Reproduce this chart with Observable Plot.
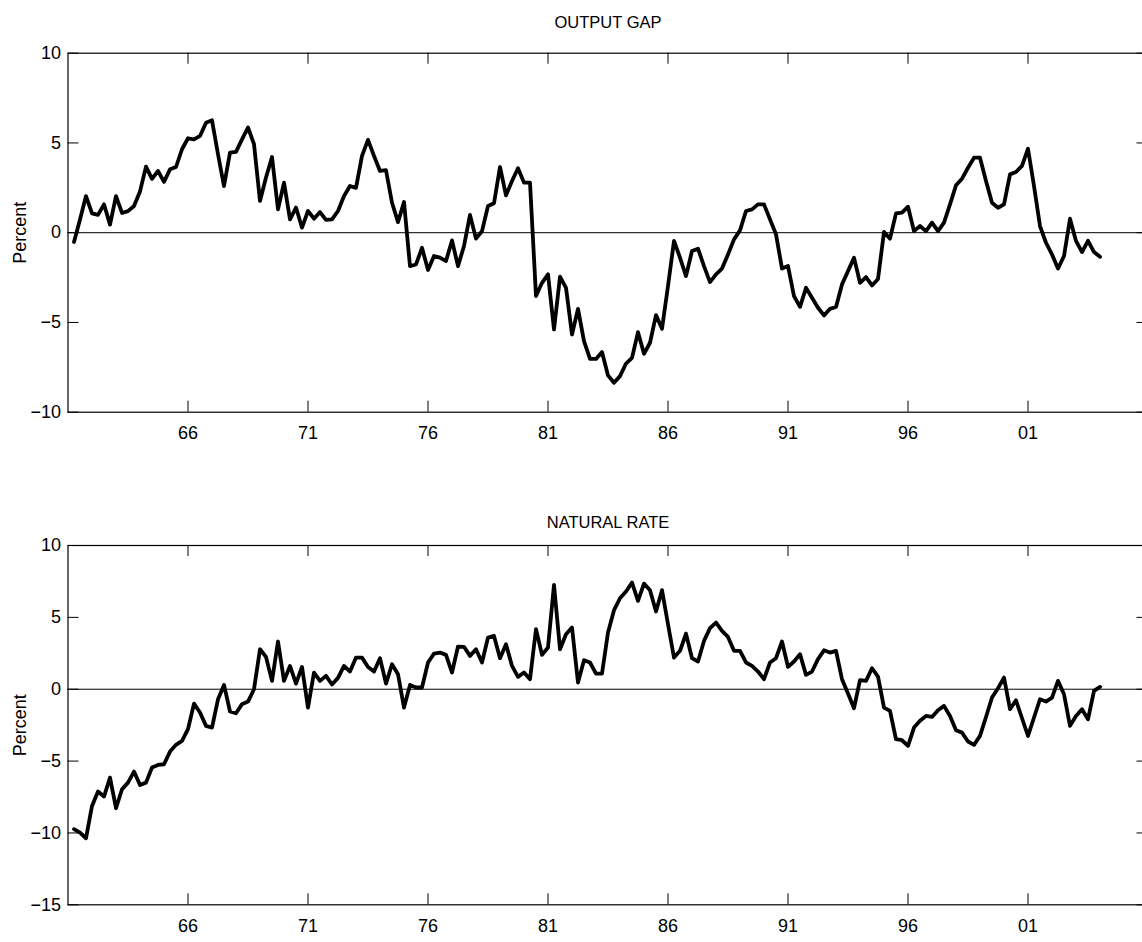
<!DOCTYPE html>
<html><head><meta charset="utf-8">
<script src="https://cdn.jsdelivr.net/npm/d3@7"></script>
<script src="https://cdn.jsdelivr.net/npm/@observablehq/plot@0.6"></script>
<style>
html,body{margin:0;padding:0;background:#fff;overflow:hidden;}
#chart{position:relative;width:1142px;height:942px;overflow:hidden;}
#chart svg{display:block;}
</style></head><body><div id="chart"></div>
<script>
// Quarterly data, 1961Q1 .. 2003Q4
const startYear = 1961;
const outputGap = [
 -0.52, 0.74, 2.04, 1.08, 0.99, 1.58, 0.45, 2.04, 1.10, 1.20,
 1.49, 2.30, 3.68, 3.00, 3.44, 2.83, 3.53, 3.66, 4.65, 5.26,
 5.20, 5.39, 6.13, 6.26, 4.37, 2.60, 4.46, 4.50, 5.20, 5.86,
 4.93, 1.77, 3.07, 4.22, 1.30, 2.79, 0.74, 1.40, 0.28, 1.21,
 0.78, 1.15, 0.71, 0.74, 1.21, 2.04, 2.60, 2.50, 4.28, 5.17,
 4.28, 3.44, 3.48, 1.67, 0.59, 1.71, -1.86, -1.77, -0.84, -2.08,
 -1.30, -1.39, -1.58, -0.43, -1.86, -0.74, 0.99, -0.33, 0.09, 1.49,
 1.64, 3.66, 2.08, 2.88, 3.59, 2.79, 2.79, -3.53, -2.79, -2.32,
 -5.39, -2.45, -3.07, -5.67, -4.24, -6.04, -7.03, -7.03, -6.65, -7.95,
 -8.36, -7.99, -7.29, -6.97, -5.54, -6.75, -6.13, -4.59, -5.35, -2.97,
 -0.46, -1.39, -2.42, -1.02, -0.89, -1.86, -2.75, -2.32, -2.00, -1.21,
 -0.37, 0.13, 1.21, 1.30, 1.58, 1.58, 0.74, -0.09, -2.00, -1.86,
 -3.53, -4.13, -3.07, -3.62, -4.18, -4.61, -4.24, -4.14, -2.88, -2.14,
 -1.39, -2.79, -2.47, -2.94, -2.58, 0.04, -0.33, 1.08, 1.12, 1.45,
 0.09, 0.37, 0.09, 0.56, 0.09, 0.56, 1.58, 2.64, 3.01, 3.62,
 4.18, 4.18, 2.88, 1.67, 1.39, 1.58, 3.25, 3.38, 3.72, 4.68,
 2.60, 0.37, -0.56, -1.21, -2.00, -1.30, 0.78, -0.46, -1.08, -0.45,
 -1.08, -1.34
];
const naturalRate = [
 -9.74, -9.98, -10.37, -8.12, -7.12, -7.47, -6.15, -8.28, -6.96, -6.50,
 -5.73, -6.66, -6.50, -5.45, -5.27, -5.22, -4.34, -3.87, -3.60, -2.78,
 -1.00, -1.62, -2.55, -2.67, -0.70, 0.30, -1.55, -1.67, -1.04, -0.86,
 0.00, 2.78, 2.25, 0.58, 3.32, 0.58, 1.62, 0.39, 1.55, -1.28,
 1.16, 0.58, 0.93, 0.33, 0.79, 1.62, 1.23, 2.20, 2.20, 1.55,
 1.23, 2.16, 0.39, 1.74, 1.04, -1.28, 0.30, 0.12, 0.12, 1.86,
 2.48, 2.55, 2.39, 1.16, 2.97, 2.95, 2.32, 2.78, 1.86, 3.60,
 3.71, 2.16, 3.13, 1.62, 0.86, 1.16, 0.70, 4.18, 2.39, 2.90,
 7.26, 2.78, 3.83, 4.29, 0.46, 2.02, 1.86, 1.09, 1.09, 3.95,
 5.50, 6.33, 6.80, 7.42, 6.15, 7.35, 6.89, 5.41, 6.89, 4.52,
 2.20, 2.67, 3.87, 2.16, 1.93, 3.36, 4.25, 4.64, 4.06, 3.64,
 2.67, 2.67, 1.86, 1.62, 1.23, 0.70, 1.86, 2.16, 3.32, 1.55,
 1.93, 2.44, 1.00, 1.23, 2.09, 2.71, 2.55, 2.67, 0.70, -0.30,
 -1.32, 0.63, 0.58, 1.46, 0.87, -1.28, -1.51, -3.48, -3.55, -3.94,
 -2.67, -2.20, -1.86, -1.93, -1.46, -1.16, -1.86, -2.85, -3.02, -3.64,
 -3.87, -3.25, -1.93, -0.58, 0.07, 0.81, -1.39, -0.77, -2.02, -3.25,
 -1.97, -0.70, -0.86, -0.58, 0.58, -0.35, -2.55, -1.86, -1.39, -2.09,
 -0.12, 0.16
];
const xTicks = [1966, 1971, 1976, 1981, 1986, 1991, 1996, 2001];
const xTickLabels = ["66", "71", "76", "81", "86", "91", "96", "01"];
const yTicksTop = [-10, -5, 0, 5, 10];
const yTicksBottom = [-15, -10, -5, 0, 5, 10];
const titles = ["OUTPUT GAP", "NATURAL RATE"];
const yLabel = "Percent";

const FONT = "'Liberation Sans', Arial, Helvetica, sans-serif";
const W = 1142, ML = 67.5, MR = -5.5, TICK = 11;
const fmtY = d => d < 0 ? "\u2212" + Math.abs(d) : String(d);
const fmtX = d => xTickLabels[xTicks.indexOf(d)];

function panel({values, yDomain, yTicks, title, height, marginTop, marginBottom, titleDy}) {
  const data = values.map((v, i) => ({t: startYear + (i + 1) / 4, v}));
  const ih = height - marginTop - marginBottom;
  const iw = W - ML - MR;
  return Plot.plot({
    width: W, height, marginLeft: ML, marginRight: MR, marginTop, marginBottom,
    style: {fontFamily: FONT, fontSize: "18px", color: "#000", background: "#fff"},
    x: {domain: [1961, 2006], label: null},
    y: {domain: yDomain, label: null},
    marks: [
      Plot.ruleY([0], {stroke: "#000", strokeWidth: 1}),
      Plot.line(data, {x: "t", y: "v", stroke: "#000", strokeWidth: 3.8, strokeLinejoin: "round", strokeLinecap: "round"}),
      Plot.frame({stroke: "#000", strokeWidth: 1.2}),
      Plot.tickX(xTicks, {x: d => d, insetBottom: ih - TICK, stroke: "#000"}),
      Plot.tickX(xTicks, {x: d => d, insetTop: ih - TICK, stroke: "#000"}),
      Plot.tickY(yTicks, {y: d => d, insetRight: iw - TICK, stroke: "#000"}),
      Plot.tickY(yTicks, {y: d => d, insetLeft: iw - TICK, stroke: "#000"}),
      Plot.axisX(xTicks, {tickSize: 0, tickPadding: 14, tickFormat: fmtX, fontSize: 18, label: null}),
      Plot.axisY(yTicks, {tickSize: 0, tickPadding: 7, tickFormat: fmtY, fontSize: 18, label: null}),
      Plot.text([title], {frameAnchor: "top", lineAnchor: "middle", dy: titleDy, text: d => d, fontSize: 16.5, fill: "#000"}),
      Plot.text([yLabel], {frameAnchor: "left", lineAnchor: "middle", textAnchor: "middle", dx: -47.5, rotate: -90, text: d => d, fontSize: 18, fill: "#000"})
    ]
  });
}

const chart = document.getElementById("chart");
chart.append(panel({values: outputGap, yDomain: [-10, 10], yTicks: yTicksTop, title: titles[0],
  height: 470, marginTop: 52.7, marginBottom: 58.3, titleDy: -30}));
chart.append(panel({values: naturalRate, yDomain: [-15, 10], yTicks: yTicksBottom, title: titles[1],
  height: 472, marginTop: 75, marginBottom: 37.7, titleDy: -23}));
</script></body></html>
